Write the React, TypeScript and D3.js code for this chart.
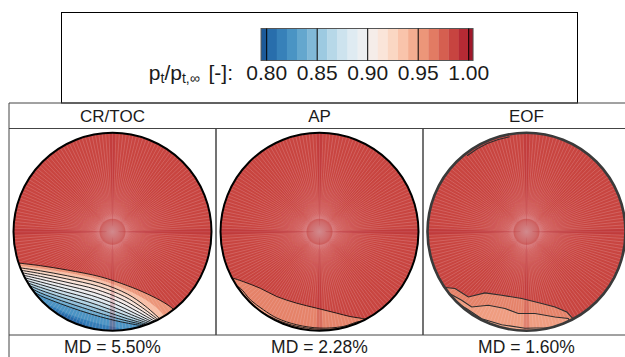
import React from 'react';
import * as d3 from 'd3';

// ---- data -------------------------------------------------------------
const methods = ['CR/TOC', 'AP', 'EOF'];
const mdPercent = [5.5, 2.28, 1.6];

// colour bar: discrete 0.01 bands, ticks every 0.05
const bandEdges = [0.79, 0.8, 0.81, 0.82, 0.83, 0.84, 0.85, 0.86, 0.87, 0.88, 0.89, 0.9, 0.91, 0.92, 0.93, 0.94, 0.95, 0.96, 0.97, 0.98, 0.99, 1.0, 1.01];
const colorbarTicks = [0.8, 0.85, 0.9, 0.95, 1.0];
const colorbarRange = [0.7944, 1.0043];

// free-stream level of the undisturbed part of each plane
const baseLevel = [0.984, 0.984, 0.984];
const crossLevel = 0.998;

type Pt = [number, number];
type Contour = { level: number; fill: boolean; line: boolean; pts: Pt[] };

// contour boundaries in normalised plane coordinates (x right, y up, radius 1)
const crTocContours: Contour[] = [
  { level: 0.955, fill: true, line: true, pts: [[-0.98, -0.313], [-0.727, -0.343], [-0.455, -0.387], [-0.121, -0.455], [0.152, -0.545], [0.354, -0.629], [0.518, -0.714], [0.6, -0.77], [0.66, -0.83]] },
  { level: 0.937, fill: true, line: false, pts: [[-0.97, -0.34], [-0.727, -0.37], [-0.455, -0.415], [-0.121, -0.487], [0.152, -0.59], [0.34, -0.69], [0.48, -0.8], [0.56, -0.9]] },
  { level: 0.925, fill: true, line: true, pts: [[-0.965, -0.36], [-0.727, -0.395], [-0.455, -0.445], [-0.121, -0.52], [0.152, -0.63], [0.33, -0.75], [0.5, -0.9]] },
  { level: 0.915, fill: true, line: true, pts: [[-0.95, -0.385], [-0.727, -0.423], [-0.463, -0.476], [-0.143, -0.551], [0.122, -0.655], [0.302, -0.768], [0.484, -0.907]] },
  { level: 0.905, fill: true, line: true, pts: [[-0.935, -0.41], [-0.727, -0.451], [-0.471, -0.508], [-0.166, -0.582], [0.091, -0.681], [0.275, -0.785], [0.469, -0.913]] },
  { level: 0.895, fill: true, line: true, pts: [[-0.919, -0.435], [-0.727, -0.479], [-0.478, -0.539], [-0.188, -0.613], [0.061, -0.706], [0.247, -0.803], [0.453, -0.92]] },
  { level: 0.885, fill: true, line: true, pts: [[-0.904, -0.46], [-0.727, -0.507], [-0.486, -0.57], [-0.211, -0.644], [0.031, -0.732], [0.219, -0.821], [0.438, -0.927]] },
  { level: 0.873, fill: true, line: true, pts: [[-0.889, -0.486], [-0.727, -0.534], [-0.494, -0.602], [-0.233, -0.674], [0.0, -0.757], [0.192, -0.838], [0.422, -0.933]] },
  { level: 0.862, fill: true, line: true, pts: [[-0.874, -0.511], [-0.727, -0.562], [-0.502, -0.633], [-0.256, -0.705], [-0.03, -0.783], [0.164, -0.856], [0.407, -0.94]] },
  { level: 0.85, fill: true, line: true, pts: [[-0.858, -0.536], [-0.727, -0.59], [-0.509, -0.664], [-0.278, -0.736], [-0.06, -0.808], [0.136, -0.874], [0.391, -0.947]] },
  { level: 0.838, fill: true, line: true, pts: [[-0.843, -0.561], [-0.727, -0.618], [-0.517, -0.696], [-0.301, -0.767], [-0.091, -0.834], [0.109, -0.891], [0.376, -0.953]] },
  { level: 0.825, fill: true, line: true, pts: [[-0.828, -0.586], [-0.727, -0.646], [-0.525, -0.727], [-0.323, -0.798], [-0.121, -0.859], [0.081, -0.909], [0.36, -0.96]] },
  { level: 0.813, fill: true, line: false, pts: [[-0.72, -0.72], [-0.6, -0.76], [-0.45, -0.83], [-0.28, -0.89], [-0.1, -0.94], [0.05, -0.97], [0.15, -1.0]] },
  { level: 0.803, fill: true, line: false, pts: [[-0.66, -0.78], [-0.55, -0.81], [-0.42, -0.86], [-0.3, -0.92], [-0.2, -0.99]] },
];

const apContours: Contour[] = [
  { level: 0.962, fill: true, line: true, pts: [[-0.9, -0.46], [-0.766, -0.505], [-0.598, -0.571], [-0.43, -0.655], [-0.229, -0.722], [-0.028, -0.772], [0.173, -0.822], [0.307, -0.856], [0.407, -0.872], [0.5, -0.89]] },
  { level: 0.952, fill: true, line: true, pts: [[-0.88, -0.53], [-0.799, -0.571], [-0.698, -0.688], [-0.565, -0.789], [-0.43, -0.872], [-0.229, -0.94], [0.005, -0.973], [0.239, -0.957], [0.407, -0.906], [0.47, -0.92]] },
  { level: 0.945, fill: true, line: true, pts: [[-0.76, -0.7], [-0.6, -0.8], [-0.43, -0.89], [-0.229, -0.955], [0.005, -0.985], [0.2, -0.978], [0.32, -0.96]] },
];

const eofContours: Contour[] = [
  { level: 0.962, fill: true, line: true, pts: [[-0.845, -0.56], [-0.722, -0.574], [-0.588, -0.659], [-0.419, -0.618], [-0.251, -0.641], [-0.048, -0.675], [0.154, -0.725], [0.288, -0.76], [0.406, -0.81], [0.49, -0.9]] },
  { level: 0.952, fill: true, line: true, pts: [[-0.82, -0.6], [-0.655, -0.692], [-0.554, -0.76], [-0.386, -0.742], [-0.217, -0.776], [-0.083, -0.826], [0.086, -0.826], [0.288, -0.861], [0.422, -0.877], [0.45, -0.93]] },
  { level: 0.945, fill: true, line: true, pts: [[-0.74, -0.7], [-0.6, -0.78], [-0.453, -0.879], [-0.251, -0.939], [-0.015, -0.975], [0.2, -0.97], [0.338, -0.96]] },
  { level: 0.99, fill: false, line: true, pts: [[-0.169, 0.96], [-0.285, 0.932], [-0.397, 0.891], [-0.502, 0.836], [-0.6, 0.768]] },
];

const panelContours = [crTocContours, apContours, eofContours];

// ---- styling / layout ------------------------------------------------
const W = 625;
const H = 357;
const FONT = "'Liberation Sans', Arial, Helvetica, sans-serif";
const TEXT = '#1b1b1b';

const tableLeft = 9;
const panelW = 207;
const headTop = 103;
const headBottom = 128.5;
const rowBottom = 335;
const R = 99;

const legendBox = { x: 61.5, y: 12.5, w: 516, h: 90.5 };
const barTop = 28.5;
const barH = 32;

// value -> RdBu (reversed so that high values are red)
const colorPos = d3.scaleLinear().domain([0.775, 1.025]).range([1, 0]);
const color = (v: number) => d3.interpolateRdBu(colorPos(v));

const barX = d3.scaleLinear().domain([0.8, 1.0]).range([266.7, 468.7]);

const sx = d3.scaleLinear().domain([-1, 1]).range([-R, R]);
const sy = d3.scaleLinear().domain([-1, 1]).range([R, -R]);

// polar mesh spokes and the darker axis cross of the surface rendering
const spokeAngles = d3.range(0, 360, 2);
const crossAngles = [0, 90, 180, 270];
const rad = (a: number) => (a * Math.PI) / 180;
const hubR = 18;
const spokeStart = 13;

function Panel({ idx }: { idx: number }) {
  const x0 = tableLeft + idx * panelW;
  const cx = x0 + panelW / 2;
  const cy = (headBottom + rowBottom) / 2;
  const contours = panelContours[idx];
  const isEof = methods[idx] === 'EOF';
  const line = d3
    .line<Pt>()
    .x((d) => sx(d[0]))
    .y((d) => sy(d[1]))
    .curve(isEof ? d3.curveLinear : d3.curveCatmullRom.alpha(0.5));
  const region = (pts: Pt[]) => {
    const first = pts[0];
    const last = pts[pts.length - 1];
    return `${line(pts)}L${sx(last[0])},${sy(-1.5)}L${sx(first[0])},${sy(-1.5)}Z`;
  };
  const wedge = d3.arc<{ a: number }>()
    .innerRadius(6)
    .outerRadius(R + 2)
    .startAngle((d) => rad(d.a - 1.8))
    .endAngle((d) => rad(d.a + 1.8));
  const clipId = `plane-clip-${idx}`;
  const hubId = `plane-hub-${idx}`;
  return (
    <g transform={`translate(${cx},${cy})`}>
      <defs>
        <clipPath id={clipId}>
          <circle r={R} />
        </clipPath>
        <radialGradient id={hubId}>
          <stop offset="0%" stopColor="#d3959a" stopOpacity={0.85} />
          <stop offset="55%" stopColor="#d69196" stopOpacity={0.5} />
          <stop offset="100%" stopColor="#d88a8f" stopOpacity={0} />
        </radialGradient>
      </defs>
      <g clipPath={`url(#${clipId})`}>
        <circle r={R} fill={color(baseLevel[idx])} />
        {contours
          .filter((c) => c.fill)
          .map((c, i) => (
            <path key={`f${i}`} d={region(c.pts)} fill={color(c.level)} />
          ))}
        {spokeAngles.map((a) => (
          <line
            key={a}
            x1={spokeStart * Math.cos(rad(a))}
            y1={spokeStart * Math.sin(rad(a))}
            x2={R * Math.cos(rad(a))}
            y2={R * Math.sin(rad(a))}
            stroke="#f7d3da"
            strokeWidth={0.5}
            opacity={0.42}
          />
        ))}
        <circle r={hubR} fill={`url(#${hubId})`} />
        {crossAngles.map((a) => (
          <path key={`c${a}`} d={wedge({ a }) || ''} fill={color(crossLevel)} opacity={a === 90 || a === 270 ? 0.3 : 0.22} />
        ))}
        {contours
          .filter((c) => c.line)
          .map((c, i) => (
            <path key={`l${i}`} d={line(c.pts) || ''} fill="none" stroke={isEof ? '#2e2e2e' : '#111'} strokeWidth={isEof ? 1.1 : 0.9} />
          ))}
      </g>
      <circle r={R} fill="none" stroke={isEof ? '#3a3a3a' : '#000'} strokeWidth={isEof ? 2.6 : 2} />
    </g>
  );
}

export default function App() {
  const bands = bandEdges.slice(0, -1).map((lo, i) => ({ lo, hi: bandEdges[i + 1] }));
  const bx0 = barX(colorbarRange[0]);
  const bx1 = barX(colorbarRange[1]);
  return (
    <svg
      width={W}
      height={H}
      viewBox={`0 0 ${W} ${H}`}
      style={{ position: 'absolute', left: 0, top: 0, background: '#fff' }}
      fontFamily={FONT}
    >
      <rect width={W} height={H} fill="#fff" />

      {/* legend box with colour bar */}
      <rect x={legendBox.x} y={legendBox.y} width={legendBox.w} height={legendBox.h} fill="#fff" stroke="#000" strokeWidth={1} />
      <defs>
        <clipPath id="bar-clip">
          <rect x={bx0} y={barTop} width={bx1 - bx0} height={barH} />
        </clipPath>
      </defs>
      <g clipPath="url(#bar-clip)">
        {bands.map((b) => (
          <rect key={b.lo} x={barX(b.lo)} y={barTop} width={barX(b.hi) - barX(b.lo) + 0.3} height={barH} fill={color((b.lo + b.hi) / 2)} />
        ))}
      </g>
      <rect x={bx0} y={barTop} width={bx1 - bx0} height={barH} fill="none" stroke="#555" strokeWidth={1} />
      {colorbarTicks.map((t) => (
        <line key={`t${t}`} x1={barX(t)} x2={barX(t)} y1={barTop} y2={barTop + barH} stroke="#000" strokeWidth={1} />
      ))}
      {colorbarTicks.map((t) => (
        <text key={`l${t}`} x={barX(t)} y={80} textAnchor="middle" fontSize={21} fill={TEXT}>
          {t.toFixed(2)}
        </text>
      ))}
      <text x={233} y={80} textAnchor="end" fontSize={21} fill={TEXT}>
        p<tspan fontSize={14} dy={3}>t</tspan>
        <tspan dy={-3}>/p</tspan>
        <tspan fontSize={14} dy={3}>t,∞</tspan>
        <tspan dy={-3} dx={3}> [-]:</tspan>
      </text>

      {/* table frame */}
      <line x1={tableLeft} x2={W} y1={headTop} y2={headTop} stroke="#444" strokeWidth={1} />
      <line x1={tableLeft} x2={W} y1={headBottom} y2={headBottom} stroke="#444" strokeWidth={1} />
      <line x1={tableLeft} x2={W} y1={rowBottom} y2={rowBottom} stroke="#444" strokeWidth={1} />
      <line x1={tableLeft} x2={tableLeft} y1={headTop} y2={H} stroke="#444" strokeWidth={1} />
      {methods.slice(1).map((m, i) => {
        const x = tableLeft + (i + 1) * panelW;
        return <line key={m} x1={x} x2={x} y1={headBottom} y2={rowBottom} stroke="#444" strokeWidth={1.5} />;
      })}

      {methods.map((m, i) => (
        <Panel key={m} idx={i} />
      ))}

      {methods.map((m, i) => (
        <text key={`h${m}`} x={tableLeft + (i + 0.5) * panelW} y={122} textAnchor="middle" fontSize={17} fill={TEXT}>
          {m}
        </text>
      ))}
      {mdPercent.map((v, i) => (
        <text key={`md${i}`} x={tableLeft + (i + 0.5) * panelW} y={352.5} textAnchor="middle" fontSize={17.5} fill={TEXT}>
          {`MD = ${v.toFixed(2)}%`}
        </text>
      ))}
    </svg>
  );
}
